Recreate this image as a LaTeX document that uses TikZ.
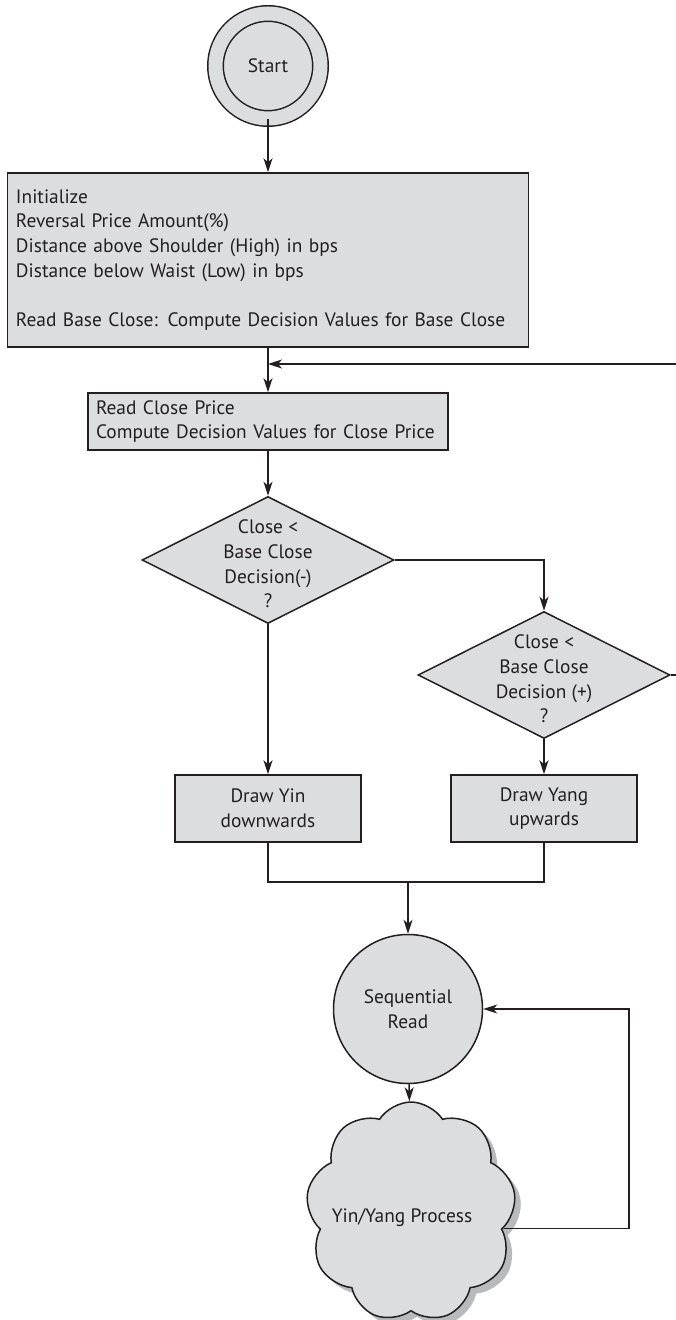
\documentclass[tikz,border=0pt]{standalone}
\usepackage{fontspec}
\setmainfont{PT Sans}
\usepackage{xcolor}
\definecolor{boxGray}{RGB}{220, 221, 223}
\definecolor{lineDark}{RGB}{35, 31, 32}
\definecolor{shadowGray}{RGB}{185, 186, 189}
\usetikzlibrary{shapes.geometric, shapes.symbols, arrows.meta, positioning, calc, shadows}
\tikzset{
    base/.style={draw=lineDark, line width=0.75pt, fill=boxGray, align=center, text=lineDark, font=\fontsize{9.7}{12.35}\selectfont},
    proc/.style={base, rectangle, inner sep=0pt},
    decision/.style={base, diamond, minimum width=126pt, minimum height=63.5pt, inner sep=0pt},
    plainText/.style={align=center, text=lineDark, font=\fontsize{9.7}{12.35}\selectfont},
    arrow/.style={-{Stealth[length=7pt, width=4.5pt, inset=2pt]}, line width=0.75pt, draw=lineDark},
    line/.style={line width=0.75pt, draw=lineDark}
}
\begin{document}
\begin{tikzpicture}[x=0.5pt, y=-0.5pt]
    \useasboundingbox (0,0) rectangle (675,1320);

    % --- START AND SETUP ---
    \node[base, circle, double=boxGray, double distance=7pt, minimum size=52.5pt] (start) at (268,66) {Start};
    \node[proc, align=left, text width=252pt, inner xsep=4.25pt, minimum height=87pt] (init) at (268,260) {Initialize\\ Reversal Price Amount(\%)\\ Distance above Shoulder (High) in bps\\ Distance below Waist (Low) in bps\\[12.35pt] Read Base Close: Compute Decision Values for Base Close};
    \node[proc, align=left, text width=172pt, inner xsep=4pt, minimum height=28.5pt] (readClose) at (268,421.5) {Read Close Price\\ Compute Decision Values for Close Price};

    % --- DECISIONS ---
    \node[decision] (dec1) at (268,560) {};
    \node[plainText] (dec1Txt) at ($(dec1.center)+(0,4)$) {Close <\\ Base Close\\ Decision(-)\\ ?};
    \node[decision] (dec2) at (544,675) {};
    \node[plainText] (dec2Txt) at ($(dec2.center)+(0,4)$) {Close <\\ Base Close\\ Decision (+)\\ ?};

    \node[proc, minimum width=93pt, minimum height=33.5pt] (yin) at (268,808.5) {Draw Yin\\ downwards};
    \node[proc, minimum width=93pt, minimum height=33.5pt] (yang) at (yin -| dec2) {Draw Yang\\ upwards};

    % --- READ LOOP ---
    \node[base, circle, minimum size=74.5pt, inner sep=0pt] (seqRead) at (408,1009) {Sequential\\ Read};
    \node[base, cloud, cloud puffs=9, cloud puff arc=115, aspect=1, inner sep=0pt, minimum width=105pt, minimum height=110pt,
          drop shadow={shadow xshift=3pt, shadow yshift=-3pt, fill=shadowGray, opacity=1}] (yyProc) at (411,1212) {};
    \node[plainText] (yyTxt) at (402,1218) {Yin/Yang Process};

    \coordinate (joinTop) at (268,364);
    \coordinate (backR) at (700,364);
    \coordinate (joinBot) at (408,882);
    \coordinate (loopR) at (629,1009);

    % --- CONNECTIONS ---
    \draw[arrow] (start) -- (init);
    \draw[arrow] (init) -- (readClose);
    \draw[arrow] (dec2.east) -| (backR) -- (joinTop);
    \draw[arrow] (readClose) -- (dec1);
    \draw[arrow] (dec1.east) -| (dec2.north);
    \draw[arrow] (dec1) -- (yin);
    \draw[arrow] (dec2) -- (yang);
    \draw[line] (yin.south) |- (joinBot) -| (yang.south);
    \draw[arrow] (joinBot) -- (seqRead.north);
    \draw[arrow] (seqRead) -- (yyProc);
    \draw[arrow] (yyProc.-10) -| (loopR) -- (seqRead.east);

\end{tikzpicture}
\end{document}
